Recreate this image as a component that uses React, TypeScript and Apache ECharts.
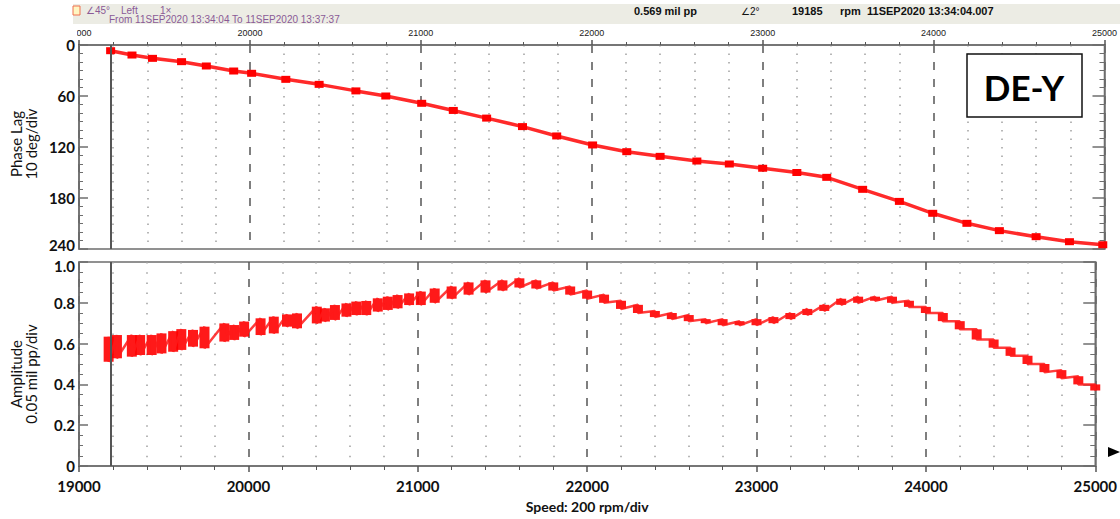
import React, { useEffect, useRef } from "react";
import * as echarts from "echarts";

// ---- data ----
const speedMin = 19000;
const speedMax = 25000;
const cursorSpeed = 19185;

const phaseSpeed = [19185, 19310, 19430, 19600, 19745, 19905, 20010, 20210, 20405, 20620, 20795, 21005, 21190, 21385, 21595, 21795, 22005, 22205, 22400, 22615, 22805, 23000, 23200, 23375, 23585, 23800, 23995, 24195, 24385, 24600, 24795, 24990];
const phaseLag = [6.7, 11.8, 15.7, 19.6, 24.7, 30.6, 33.3, 40.4, 46.3, 54, 60, 68.6, 77, 86, 96, 107, 117.6, 125.5, 131, 136.5, 140, 145, 150, 155.7, 169.8, 184, 198, 209.8, 218.4, 225.5, 231.4, 235];

const ampSpeed = [19175, 19224, 19312, 19361, 19429, 19487, 19556, 19604, 19673, 19741, 19858, 19916, 19975, 20072, 20150, 20228, 20287, 20404, 20452, 20511, 20579, 20637, 20696, 20764, 20823, 20881, 20949, 21018, 21100, 21200, 21300, 21400, 21500, 21600, 21700, 21800, 21900, 22000, 22100, 22200, 22300, 22400, 22500, 22600, 22700, 22800, 22900, 23000, 23100, 23200, 23300, 23400, 23500, 23600, 23700, 23800, 23900, 24000, 24100, 24200, 24300, 24400, 24500, 24600, 24700, 24800, 24900, 25000];
const ampLow = [0.511, 0.528, 0.536, 0.544, 0.544, 0.552, 0.56, 0.569, 0.585, 0.577, 0.61, 0.618, 0.634, 0.642, 0.65, 0.683, 0.675, 0.699, 0.708, 0.716, 0.732, 0.74, 0.74, 0.757, 0.765, 0.773, 0.789, 0.789, 0.8, 0.82, 0.84, 0.85, 0.86, 0.875, 0.87, 0.86, 0.84, 0.82, 0.8, 0.77, 0.75, 0.73, 0.72, 0.71, 0.7, 0.69, 0.69, 0.69, 0.7, 0.72, 0.74, 0.76, 0.79, 0.8, 0.81, 0.8, 0.78, 0.75, 0.71, 0.67, 0.62, 0.58, 0.54, 0.5, 0.46, 0.43, 0.4, 0.37];
const ampHigh = [0.634, 0.642, 0.642, 0.642, 0.642, 0.65, 0.661, 0.671, 0.667, 0.683, 0.699, 0.691, 0.708, 0.724, 0.732, 0.743, 0.748, 0.781, 0.773, 0.789, 0.797, 0.806, 0.809, 0.822, 0.83, 0.838, 0.846, 0.855, 0.87, 0.88, 0.9, 0.91, 0.91, 0.92, 0.91, 0.9, 0.88, 0.86, 0.84, 0.81, 0.79, 0.76, 0.75, 0.74, 0.72, 0.72, 0.71, 0.72, 0.73, 0.75, 0.77, 0.79, 0.82, 0.83, 0.83, 0.83, 0.81, 0.78, 0.75, 0.71, 0.67, 0.62, 0.58, 0.54, 0.5, 0.47, 0.44, 0.4];

const phaseTicks = { min: 0, max: 240, interval: 60 };
const ampTicks = { min: 0, max: 1, interval: 0.2 };

const RED = "#ff0000";
const AXIS = "#6e6e6e";
const LABEL_FONT = "Lato";

export default function App() {
  const ref = useRef<HTMLDivElement>(null);
  useEffect(() => {
    if (!ref.current) return;
    const chart = echarts.init(ref.current, null, { renderer: "svg" });

    const labelTextStyle = {
      fontSize: 15,
      fontWeight: "bold" as const,
      color: "#111",
      fontFamily: LABEL_FONT,
    };
    const yLabelRich = {
      n: { ...labelTextStyle },
      up: { ...labelTextStyle, padding: [0, 0, 8, 0] },
      down: { ...labelTextStyle, padding: [8, 0, 0, 0] },
    };

    const leftY = (grid: number, t: any, minorSplit: number, formatter: (v: number) => string, extra: any = {}) => ({
      type: "value",
      gridIndex: grid,
      position: "left",
      min: t.min,
      max: t.max,
      interval: t.interval,
      axisLine: { show: true, lineStyle: { color: AXIS, width: 1.5 } },
      axisTick: { show: true, inside: true, length: 9, lineStyle: { color: AXIS, width: 1.5 } },
      minorTick: { show: true, splitNumber: minorSplit, length: 4, lineStyle: { color: AXIS, width: 1 } },
      splitLine: { show: false },
      axisLabel: { show: true, margin: 4, ...labelTextStyle, rich: yLabelRich, formatter },
      ...extra,
    });
    const rightY = (grid: number, t: any, minorSplit: number, extra: any = {}) => ({
      type: "value",
      gridIndex: grid,
      position: "right",
      min: t.min,
      max: t.max,
      interval: t.interval,
      axisLine: { show: true, lineStyle: { color: AXIS, width: 1.5 } },
      axisTick: { show: true, inside: true, length: 12, lineStyle: { color: AXIS, width: 1.5 } },
      minorTick: { show: true, splitNumber: minorSplit, length: 5, lineStyle: { color: AXIS, width: 1 } },
      splitLine: { show: false },
      axisLabel: { show: false },
      ...extra,
    });

    const phaseFormatter = (v: number) => (v === phaseTicks.max ? `{up|${v}}` : `{n|${v}}`);
    const ampFormatter = (v: number) => {
      const s = v === 0 ? "0" : v.toFixed(1);
      return v === ampTicks.max ? `{down|${s}}` : `{n|${s}}`;
    };

    const ampZigzag: number[][] = [];
    ampSpeed.forEach((s, i) => {
      ampZigzag.push([s, ampHigh[i]]);
      ampZigzag.push([s, ampLow[i]]);
    });

    const cursorLine = {
      silent: true,
      symbol: "none",
      label: { show: false },
      lineStyle: { color: "#555", width: 2, type: "solid" },
      data: [{ xAxis: cursorSpeed }],
    };

    const headerText = (text: string, x: number, y: number, bold: boolean, color: string) => ({
      type: "text",
      x,
      y,
      z: 101,
      style: {
        text,
        fill: color,
        font: `${bold ? "bold " : ""}${bold ? 11 : 10}px "Liberation Sans", Arial, sans-serif`,
        textVerticalAlign: "middle",
      },
    });

    const plain = (v: number) => String(v);

    const option: any = {
      animation: false,
      backgroundColor: "#ffffff",
      textStyle: { fontFamily: LABEL_FONT },
      grid: [
        { left: 79, right: 15, top: 45, height: 204, show: true, borderColor: AXIS, borderWidth: 1.5, backgroundColor: "transparent" },
        { left: 79, right: 15, top: 262, height: 204, show: true, borderColor: AXIS, borderWidth: 1.5, backgroundColor: "transparent" },
      ],
      xAxis: [
        {
          type: "value",
          gridIndex: 0,
          position: "top",
          min: speedMin,
          max: speedMax,
          interval: 1000,
          axisLine: { show: true, lineStyle: { color: AXIS, width: 1.5 } },
          axisTick: { show: true, inside: false, length: 5, lineStyle: { color: "#555", width: 1.5 } },
          minorTick: { show: true, splitNumber: 5, length: 3, lineStyle: { color: "#555", width: 1 } },
          axisLabel: { show: true, fontSize: 9, lineHeight: 10, color: "#222", margin: 7, fontFamily: "Liberation Sans", formatter: plain },
          splitLine: { show: true, lineStyle: { color: "#555", width: 1.5, type: [8, 9] } },
          minorSplitLine: { show: true, lineStyle: { color: "#a0a0a0", width: 1.5, type: [1.5, 7] } },
        },
        {
          type: "value",
          gridIndex: 1,
          position: "bottom",
          min: speedMin,
          max: speedMax,
          interval: 1000,
          name: "Speed: 200 rpm/div",
          nameLocation: "middle",
          nameGap: 33,
          nameTextStyle: { fontSize: 14, fontWeight: "bold", color: "#111", fontFamily: LABEL_FONT },
          axisLine: { show: true, lineStyle: { color: AXIS, width: 1.5 } },
          axisTick: { show: true, inside: false, length: 6, lineStyle: { color: "#555", width: 1.5 } },
          minorTick: { show: true, splitNumber: 5, length: 4, lineStyle: { color: "#555", width: 1 } },
          axisLabel: { show: true, fontSize: 15, fontWeight: "bold", color: "#111", margin: 12, fontFamily: LABEL_FONT, formatter: plain },
          splitLine: { show: true, lineStyle: { color: "#555", width: 1.5, type: [8, 9] } },
          minorSplitLine: { show: true, lineStyle: { color: "#a0a0a0", width: 1.5, type: [1.5, 8.7] } },
        },
      ],
      yAxis: [
        leftY(0, phaseTicks, 6, phaseFormatter, { inverse: true }),
        rightY(0, phaseTicks, 6, { inverse: true }),
        leftY(1, ampTicks, 4, ampFormatter),
        rightY(1, ampTicks, 4),
      ],
      series: [
        {
          type: "line",
          xAxisIndex: 0,
          yAxisIndex: 0,
          data: phaseSpeed.map((s, i) => [s, phaseLag[i]]),
          lineStyle: { color: "#ff2a2a", width: 3.5 },
          itemStyle: { color: RED },
          symbol: "rect",
          symbolSize: [9, 7],
          showSymbol: true,
          markLine: cursorLine,
          z: 3,
        },
        {
          type: "custom",
          xAxisIndex: 1,
          yAxisIndex: 2,
          data: ampSpeed.map((s, i) => [s, ampLow[i], ampHigh[i]]),
          encode: { x: 0, y: [1, 2] },
          renderItem: (params: any, api: any) => {
            const top = api.coord([api.value(0), api.value(2)]);
            const bot = api.coord([api.value(0), api.value(1)]);
            return {
              type: "rect",
              shape: { x: top[0] - 5, y: top[1], width: 10, height: bot[1] - top[1] },
              style: { fill: RED, opacity: 0.9 },
            };
          },
          z: 3,
        },
        {
          type: "line",
          xAxisIndex: 1,
          yAxisIndex: 2,
          data: ampZigzag,
          lineStyle: { color: "#ff1a1a", width: 2.5, opacity: 0.85 },
          showSymbol: false,
          symbol: "none",
          markLine: cursorLine,
          z: 3,
        },
      ],
      graphic: [
        // header bar
        { type: "rect", z: 100, shape: { x: 73, y: 4, width: 1047, height: 20 }, style: { fill: "#ecece4" } },
        { type: "rect", z: 101, shape: { x: 73, y: 6, width: 7, height: 9 }, style: { fill: "#fff6c2", stroke: "#f07050", lineWidth: 1 } },
        headerText("∠45°", 86, 10, false, "#8a5a96"),
        headerText("Left", 121, 10, false, "#8a5a96"),
        headerText("1×", 160, 10, false, "#8a5a96"),
        headerText("From 11SEP2020 13:34:04 To 11SEP2020 13:37:37", 109, 19, false, "#8a5a96"),
        headerText("0.569 mil pp", 634, 11, true, "#111"),
        headerText("∠2°", 741, 11, false, "#111"),
        headerText("19185", 792, 11, true, "#111"),
        headerText("rpm", 840, 11, true, "#111"),
        headerText("11SEP2020 13:34:04.007", 867, 11, true, "#111"),
        // mask hiding the clipped start of the top axis label
        { type: "rect", z: 100, shape: { x: 0, y: 25, width: 77, height: 15 }, style: { fill: "#ffffff" } },
        // axis titles
        {
          type: "text",
          z: 101,
          x: 23,
          y: 144,
          rotation: Math.PI / 2,
          style: {
            text: "Phase Lag\n10 deg/div",
            fill: "#111",
            font: `15px ${LABEL_FONT}`,
            lineHeight: 15,
            textAlign: "center",
            textVerticalAlign: "middle",
          },
        },
        {
          type: "text",
          z: 101,
          x: 23,
          y: 374,
          rotation: Math.PI / 2,
          style: {
            text: "Amplitude\n0.05 mil pp/div",
            fill: "#111",
            font: `15px ${LABEL_FONT}`,
            lineHeight: 15,
            textAlign: "center",
            textVerticalAlign: "middle",
          },
        },
        // DE-Y label box
        { type: "rect", z: 101, shape: { x: 967, y: 54, width: 115, height: 63 }, style: { fill: "#ffffff", stroke: "#111", lineWidth: 1.5 } },
        {
          type: "text",
          z: 102,
          x: 1024,
          y: 87,
          style: { text: "DE-Y", fill: "#000", font: `bold 35px ${LABEL_FONT}`, textAlign: "center", textVerticalAlign: "middle" },
        },
        // right-edge pointer
        { type: "polygon", z: 101, shape: { points: [[1108, 447], [1120, 452], [1108, 457]] }, style: { fill: "#000" } },
      ],
    };

    chart.setOption(option);
    return () => chart.dispose();
  }, []);

  return (
    <div
      ref={ref}
      style={{ position: "absolute", left: 0, top: 0, width: 1120, height: 519, background: "#fff" }}
    />
  );
}
